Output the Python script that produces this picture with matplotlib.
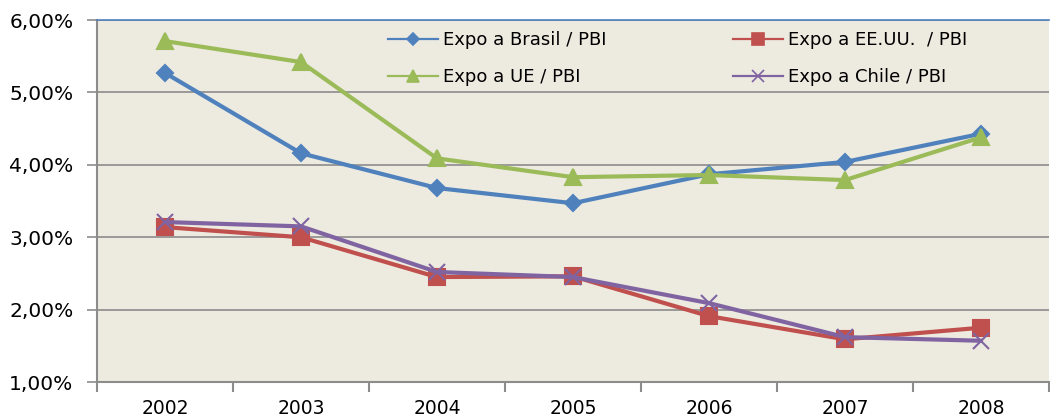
import matplotlib
matplotlib.use('Agg')
import matplotlib.pyplot as plt
from matplotlib.lines import Line2D
from matplotlib.ticker import FixedLocator, FuncFormatter

# Datos (en %)
anios = ['2002', '2003', '2004', '2005', '2006', '2007', '2008']
brasil = [5.27, 4.16, 3.68, 3.47, 3.87, 4.04, 4.43]
eeuu = [3.14, 3.00, 2.45, 2.46, 1.91, 1.59, 1.75]
ue = [5.71, 5.42, 4.09, 3.83, 3.86, 3.79, 4.38]
chile = [3.21, 3.15, 2.52, 2.45, 2.09, 1.62, 1.57]

series = [
    ('Expo a Brasil / PBI', brasil, '#4F81BD', 'D', 8),
    ('Expo a EE.UU.  / PBI', eeuu, '#C0504D', 's', 11),
    ('Expo a UE / PBI', ue, '#9BBB59', '^', 11),
    ('Expo a Chile / PBI', chile, '#8064A2', 'x', 11),
]

fig = plt.figure(figsize=(10.5, 4.19), dpi=100)
ax = fig.add_axes([0.0924, 0.0883, 0.9066, 0.8637])
ax.set_facecolor('#EDEAE0')

x = range(len(anios))
handles = {}
for nombre, vals, col, mk, ms in series:
    ax.plot(x, vals, color=col, lw=3, marker=mk, ms=ms, mew=1.5, zorder=3)
    # handle fino para la leyenda, como en Excel
    handles[nombre] = Line2D([], [], color=col, lw=1.6, marker=mk, ms=ms * 0.8, mew=1.2)

ax.set_xlim(-0.5, len(anios) - 0.5)
ax.set_ylim(1, 6)
ax.set_yticks([1, 2, 3, 4, 5, 6])
ax.yaxis.set_major_formatter(FuncFormatter(lambda v, p: f'{v:.2f}'.replace('.', ',') + '%'))
ax.yaxis.grid(True, color='#8C8C8C', lw=1.2)
ax.set_axisbelow(True)

# ticks entre categorias, etiquetas centradas
ax.xaxis.set_major_locator(FixedLocator([i - 0.5 for i in range(len(anios) + 1)]))
ax.xaxis.set_major_formatter(FuncFormatter(lambda v, p: ''))
ax.xaxis.set_minor_locator(FixedLocator(list(x)))
ax.set_xticklabels(anios, minor=True)
ax.tick_params(axis='x', which='minor', length=0, pad=12, labelsize=13.5)
ax.tick_params(axis='x', which='major', length=7, color='#8C8C8C', width=1.5)
ax.tick_params(axis='y', length=7, color='#8C8C8C', width=1.2, labelsize=14.5, pad=10)

for s in ['left', 'bottom']:
    ax.spines[s].set_color('#8C8C8C')
    ax.spines[s].set_linewidth(1.5)
ax.spines['right'].set_visible(False)
ax.spines['top'].set_color('#4F81BD')
ax.spines['top'].set_linewidth(1.2)

# orden por filas: Brasil, EE.UU. / UE, Chile
orden = ['Expo a Brasil / PBI', 'Expo a UE / PBI', 'Expo a EE.UU.  / PBI', 'Expo a Chile / PBI']
ax.legend([handles[n] for n in orden], orden,
          loc='upper left', bbox_to_anchor=(0.3057, 0.970), ncol=2, frameon=False,
          fontsize=13, handlelength=2.77, handletextpad=0.28, borderpad=0,
          borderaxespad=0, columnspacing=7.0, labelspacing=1.05)

fig.savefig('out.png', dpi=100)
